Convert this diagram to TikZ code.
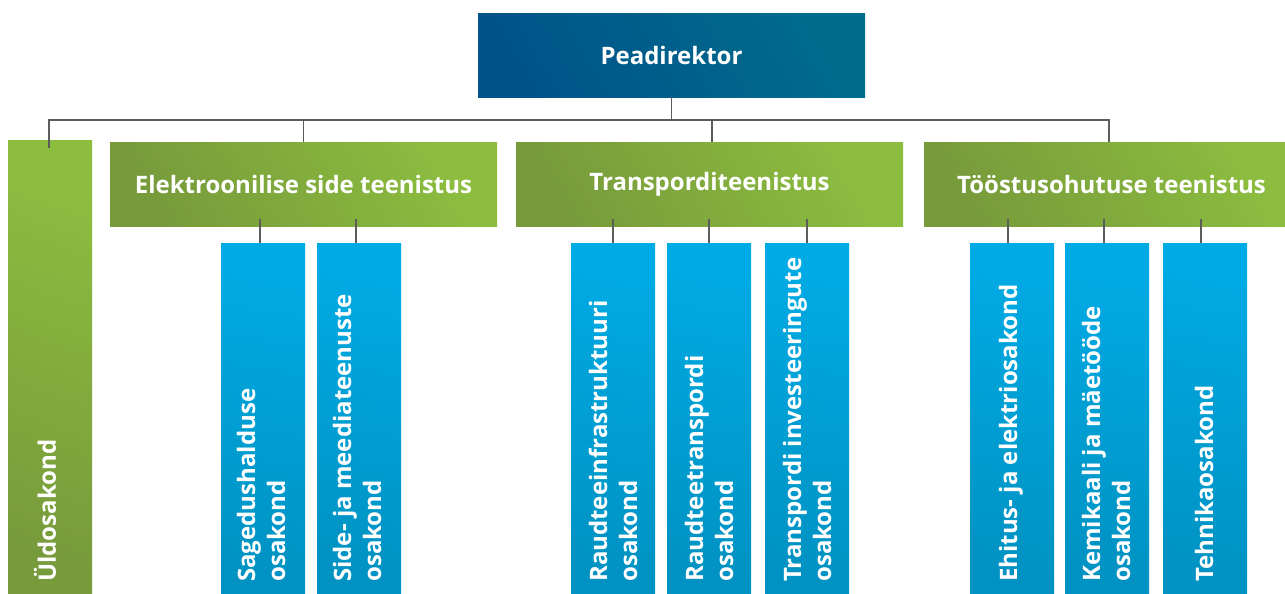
\documentclass[tikz,border=0pt]{standalone}
\usepackage{fontspec}
\setmainfont{Open Sans}
\usetikzlibrary{calc}
\definecolor{pdA}{HTML}{00538A}
\definecolor{pdB}{HTML}{006C8C}
\definecolor{gA}{HTML}{779B3B}
\definecolor{gB}{HTML}{8CBD3F}
\definecolor{bA}{HTML}{00ABE5}
\definecolor{bB}{HTML}{0092C2}
\definecolor{ln}{HTML}{5C5C5C}
\begin{document}
\begin{tikzpicture}[x=0.75pt,y=-0.75pt,
  box/.style={inner sep=0pt, outer sep=0pt, anchor=north west, text=white,
    font=\fontsize{18}{22.5}\selectfont\bfseries},
  pdbox/.style={box, bottom color=pdA, top color=pdB, shading angle=-60,
    minimum width=290.25pt, minimum height=63pt},
  gbox/.style={box, bottom color=gA, top color=gB, shading angle=-60,
    minimum height=63pt},
  bbox/.style={box, top color=bA, bottom color=bB, shading angle=-10,
    minimum width=63pt, minimum height=262.5pt},
  vlab/.style={rotate=90, anchor=west, inner sep=0pt, align=left, text=white,
    font=\fontsize{18}{22.5}\selectfont\bfseries},
  conn/.style={draw=ln, line width=1.1pt}
]
\useasboundingbox (0,0) rectangle (1285,593);
\clip (0,0) rectangle (1285,593);
\fill[white] (0,0) rectangle (1285,593);

% boxes
\node[pdbox] (pd) at (478,13) {Peadirektor};
\node[gbox, minimum width=63pt, minimum height=339.75pt, shading angle=-20] (u) at (8,140) {};
\node[gbox, minimum width=290.25pt] (e) at (110,142) {Elektroonilise side teenistus};
\node[gbox, minimum width=290.25pt] (t) at (516,142) {Transporditeenistus};
\node[gbox, minimum width=281.25pt] (o) at (924,142) {Tööstusohutuse teenistus};

\node[bbox] (e1) at (221,243) {};
\node[bbox] (e2) at (317,243) {};
\node[bbox] (t1) at (571,243) {};
\node[bbox] (t2) at (667,243) {};
\node[bbox] (t3) at (765,243) {};
\node[bbox] (o1) at (970,243) {};
\node[bbox] (o2) at (1065,243) {};
\node[bbox] (o3) at (1163,243) {};

% vertical labels
\node[vlab] (ul) at (45,582) {Üldosakond};
\node[vlab] (e1l) at (261,582) {Sagedushalduse\\osakond};
\node[vlab] (e2l) at (357,582) {Side- ja meediateenuste\\osakond};
\node[vlab] (t1l) at (613,582) {Raudteeinfrastruktuuri\\osakond};
\node[vlab] (t2l) at (709,582) {Raudteetranspordi\\osakond};
\node[vlab] (t3l) at (807,582) {Transpordi investeeringute\\osakond};
\node[vlab] (o1l) at (1011,582) {Ehitus- ja elektriosakond};
\node[vlab] (o2l) at (1106,582) {Kemikaali ja mäetööde\\osakond};
\node[vlab] (o3l) at (1204,582) {Tehnikaosakond};

% connectors
\coordinate (bus) at (0,120);
\coordinate (obus) at (1109,120);
\coordinate (tbus) at (712,120);
\draw[conn] (pd.south) -- (pd.south |- bus);
\draw[conn] ($(u.north)+(-1,8)$) |- (obus) -- (obus |- o.north);
\draw[conn] (e.north) -- (e.north |- bus);
\draw[conn] (tbus) -- (tbus |- t.north);

\draw[conn] ($(e1.north)+(-3,0)$) -- ($(e1.north)+(-3,-24)$);
\draw[conn] ($(e2.north)+(-3,0)$) -- ($(e2.north)+(-3,-24)$);
\draw[conn] (t1.north) -- ($(t1.north)+(0,-24)$);
\draw[conn] (t2.north) -- ($(t2.north)+(0,-24)$);
\draw[conn] (t3.north) -- ($(t3.north)+(0,-24)$);
\draw[conn] ($(o1.north)+(-4,0)$) -- ($(o1.north)+(-4,-24)$);
\draw[conn] ($(o2.north)+(-3,0)$) -- ($(o2.north)+(-3,-24)$);
\draw[conn] ($(o3.north)+(-4,0)$) -- ($(o3.north)+(-4,-24)$);
\end{tikzpicture}
\end{document}
